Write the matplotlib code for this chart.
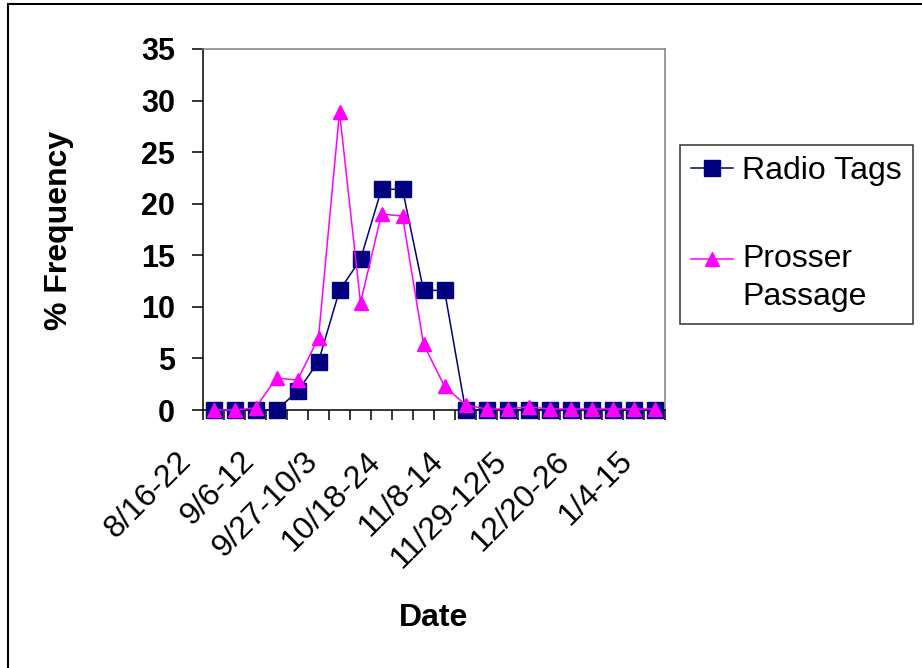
import matplotlib
matplotlib.use("Agg")
import matplotlib.pyplot as plt
import matplotlib.transforms as mtransforms
from matplotlib.legend_handler import HandlerLine2D

plt.rcParams['font.family'] = ['Liberation Sans', 'DejaVu Sans']

# weekly share of fish, in percent
radio_tags = [0, 0, 0, 0, 1.8, 4.7, 11.6, 14.6, 21.4, 21.4, 11.6, 11.6,
              0, 0, 0, 0, 0, 0, 0, 0, 0, 0]
prosser_passage = [0, 0, 0.2, 3.1, 2.9, 7.0, 28.9, 10.4, 19.0, 18.8, 6.4, 2.3,
                   0.5, 0.1, 0.1, 0.3, 0.1, 0.1, 0.1, 0.1, 0.1, 0.1]
week_labels = ["8/16-22", "9/6-12", "9/27-10/3", "10/18-24",
               "11/8-14", "11/29-12/5", "12/20-26", "1/4-15"]

weeks = list(range(len(radio_tags)))
label_pos = weeks[::3]


class TopLineHandler(HandlerLine2D):
    """Puts the legend key level with the first line of a two-line label."""
    def __init__(self, lift, **kw):
        super().__init__(**kw)
        self.lift = lift

    def create_artists(self, legend, orig_handle, xdescent, ydescent,
                       width, height, fontsize, trans):
        return super().create_artists(legend, orig_handle, xdescent,
                                      ydescent - 2 * self.lift, width, height,
                                      fontsize, trans)


fig = plt.figure(figsize=(9.22, 6.68), dpi=100)
ax = fig.add_axes([203 / 922, 1 - 410 / 668, 462 / 922, 361 / 668])

line_radio, = ax.plot(weeks, radio_tags, color='#000080', lw=1.1, marker='s', markersize=12,
                      markerfacecolor='#000080', markeredgecolor='#000080', label='Radio Tags',
                      clip_on=False, zorder=3)
line_prosser, = ax.plot(weeks, prosser_passage, color='#FF00FF', lw=1.1, marker='^',
                        markersize=9.5, markerfacecolor='#FF00FF', markeredgecolor='#FF00FF',
                        label='Prosser\nPassage', clip_on=False, zorder=4)

ax.set_xlim(-0.5, len(weeks) - 0.5)
ax.set_ylim(0, 35)
ax.set_yticks(range(0, 36, 5))

# ticks sit on the boundaries between weeks, labels on every third week
ax.set_xticks([w - 0.5 for w in weeks] + [len(weeks) - 0.5], minor=True)
ax.set_xticks(label_pos, week_labels)
ax.tick_params(axis='x', which='major', length=0, pad=0, labelsize=23)
ax.tick_params(axis='x', which='minor', length=7.5, width=1.1, direction='out')
ax.tick_params(axis='y', length=8, width=1.1, direction='out', pad=12, labelsize=22)
for t in ax.get_yticklabels():
    t.set_fontweight('bold')

offset = mtransforms.ScaledTranslation(-0.37, -0.36, fig.dpi_scale_trans)
for t in ax.get_xticklabels():
    t.set_rotation(45)
    t.set_rotation_mode('anchor')
    t.set_ha('right')
    t.set_va('top')
    t.set_transform(t.get_transform() + offset)

for side in ['left', 'bottom']:
    ax.spines[side].set_color('black')
    ax.spines[side].set_linewidth(1.1)
for side in ['top', 'right']:
    ax.spines[side].set_color('#808080')
    ax.spines[side].set_linewidth(1.1)

fig.text(59 / 922, 1 - 230 / 668, '% Frequency', rotation=90, ha='center', va='center',
         fontsize=23, fontweight='bold')
fig.text(434 / 922, 1 - 618 / 668, 'Date', ha='center', va='center',
         fontsize=23, fontweight='bold')

leg = fig.legend(handles=[line_radio, line_prosser],
                 handler_map={line_prosser: TopLineHandler(lift=14)},
                 loc='upper left', bbox_to_anchor=(680 / 922, 1 - 145 / 668),
                 fontsize=23, frameon=True, fancybox=False, shadow=False,
                 handlelength=1.3, handletextpad=0.3, borderpad=0.35,
                 labelspacing=1.8, borderaxespad=0)
leg.get_frame().set_edgecolor('black')
leg.get_frame().set_linewidth(1.1)
leg.get_texts()[1].set_linespacing(1.38)

# outer chart border
fig.patches.append(plt.Rectangle((8 / 922, -0.1), 1.2, 1.1 - 4 / 668, transform=fig.transFigure,
                                 fill=False, edgecolor='black', lw=1.5))

fig.savefig('out.png', dpi=100)
